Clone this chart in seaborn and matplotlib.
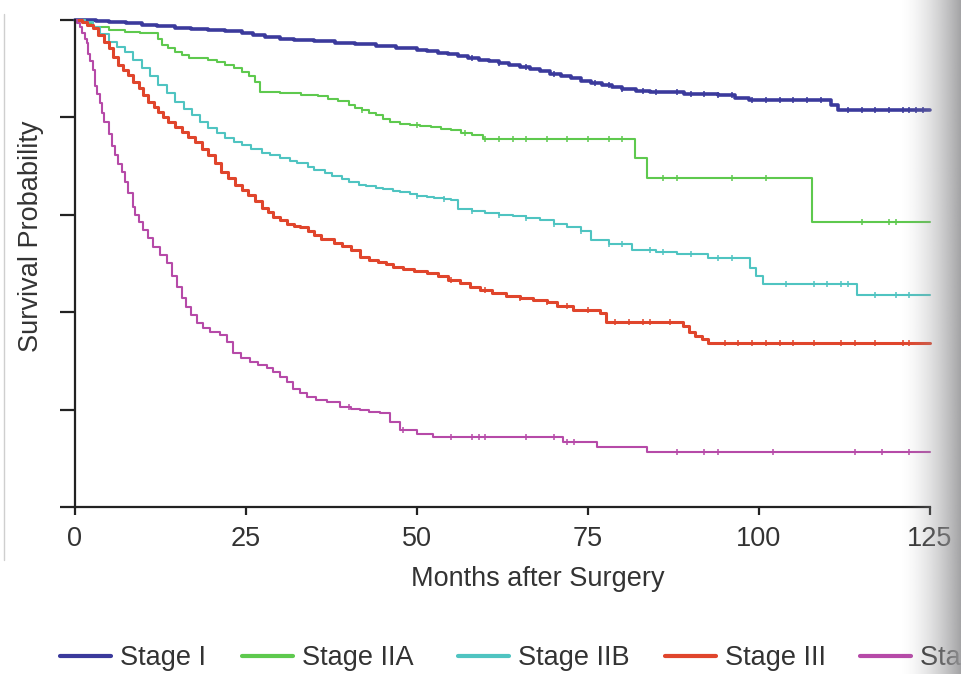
import numpy as np
import pandas as pd
import matplotlib
matplotlib.use("Agg")
import matplotlib.pyplot as plt
from matplotlib.lines import Line2D
import seaborn as sns

# ---------------- data ----------------
stages = ["Stage I", "Stage IIA", "Stage IIB", "Stage III", "Stage IV"]

t_I = [0, 3, 5, 7.5, 9.75, 12, 14.6, 17, 19.5, 22, 24.4, 26, 27.8, 30, 32, 35, 38, 41,
       44, 47, 50, 51.5, 53, 54.5, 56, 57.5, 59, 60.5, 62, 63.5, 65, 66.5, 68, 69.5,
       71, 72.5, 74, 75.5, 77, 78.5, 80, 82, 84, 89, 94, 96.5, 98.5, 110.5, 111.5, 125]
s_I = [1.0, 0.998, 0.996, 0.993, 0.990, 0.987, 0.984, 0.982, 0.980, 0.977, 0.973,
       0.969, 0.965, 0.962, 0.959, 0.956, 0.953, 0.950, 0.947, 0.943, 0.939, 0.936,
       0.933, 0.930, 0.926, 0.922, 0.918, 0.915, 0.911, 0.907, 0.903, 0.899, 0.895,
       0.890, 0.885, 0.880, 0.874, 0.870, 0.866, 0.862, 0.858, 0.855, 0.853, 0.849,
       0.845, 0.840, 0.836, 0.826, 0.815, 0.815]

t_IIA = [0, 1.5, 2.6, 5, 7.3, 9.5, 11.7, 12.2, 12.7, 13.6, 14.6, 15.6, 16.6, 19.5,
         20.7, 21.9, 23.2, 24.4, 25.4, 26.3, 27, 30, 33, 35.5, 37, 38.5, 40, 41, 42,
         43, 44, 45, 46, 47.5, 49, 50.5, 52, 53.5, 55, 56.5, 58, 59.6, 81.9, 83.6,
         107.7, 125]
s_IIA = [1.0, 0.993, 0.986, 0.980, 0.975, 0.974, 0.973, 0.962, 0.949, 0.942, 0.934,
         0.928, 0.922, 0.918, 0.913, 0.908, 0.901, 0.893, 0.884, 0.873, 0.853, 0.850,
         0.846, 0.843, 0.838, 0.833, 0.826, 0.820, 0.815, 0.810, 0.805, 0.797, 0.790,
         0.786, 0.784, 0.782, 0.780, 0.777, 0.774, 0.768, 0.763, 0.756, 0.717, 0.676,
         0.586, 0.586]

t_IIB = [0, 1.5, 2.6, 3.7, 4.9, 6.1, 7.3, 8.5, 9.75, 11, 12.2, 13.4, 14.6, 15.9, 17.1,
         18.3, 19.5, 20.7, 21.9, 23.2, 24.4, 25.8, 27.3, 28.5, 30, 31.5, 32.5, 34, 35,
         36.5, 37.5, 39, 40, 41.5, 42.5, 44, 45, 46.5, 47.5, 49, 50, 51.5, 52.5, 54,
         55, 56, 58, 60, 62, 64, 66, 68, 70, 72, 74, 75.5, 78, 81.5, 85, 88, 92.5,
         98.7, 99.5, 100.6, 114.3, 125]
s_IIB = [1.0, 0.995, 0.986, 0.972, 0.955, 0.945, 0.934, 0.918, 0.901, 0.884, 0.867,
         0.850, 0.832, 0.818, 0.805, 0.791, 0.778, 0.768, 0.758, 0.750, 0.743, 0.735,
         0.727, 0.722, 0.716, 0.710, 0.706, 0.698, 0.692, 0.686, 0.680, 0.674, 0.668,
         0.662, 0.660, 0.656, 0.652, 0.648, 0.646, 0.642, 0.639, 0.636, 0.634, 0.632,
         0.630, 0.612, 0.608, 0.604, 0.600, 0.598, 0.594, 0.590, 0.582, 0.575, 0.566,
         0.549, 0.540, 0.528, 0.524, 0.520, 0.511, 0.491, 0.475, 0.458, 0.436, 0.436]

t_III = [0, 1, 1.8, 2.6, 3.4, 4.2, 4.9, 5.6, 6.3, 7.0, 7.8, 8.5, 9.3, 10, 10.7, 11.5,
         12.2, 12.9, 13.6, 14.6, 15.6, 16.5, 17.5, 18.5, 19.5, 20.5, 21.4, 22.3, 23.4,
         24.4, 25.3, 26.3, 27.3, 28.2, 29, 30, 31, 32, 32.9, 34, 35, 36, 37.8, 39,
         40.3, 41.7, 43, 44.3, 45.5, 46.5, 48, 49.5, 51.4, 53, 54.5, 56.3, 57.8, 59.2,
         61, 63, 65, 67, 69, 70.5, 72.8, 76.8, 77.7, 88.9, 89.8, 90.7, 91.6, 92.5, 125]
s_III = [1.0, 0.995, 0.990, 0.983, 0.969, 0.955, 0.942, 0.925, 0.908, 0.897, 0.887,
         0.873, 0.860, 0.846, 0.832, 0.821, 0.811, 0.801, 0.791, 0.780, 0.770, 0.760,
         0.749, 0.736, 0.723, 0.706, 0.688, 0.675, 0.661, 0.651, 0.641, 0.628, 0.614,
         0.605, 0.596, 0.589, 0.582, 0.578, 0.575, 0.566, 0.558, 0.550, 0.542, 0.535,
         0.527, 0.513, 0.508, 0.503, 0.498, 0.493, 0.489, 0.485, 0.480, 0.474, 0.467,
         0.460, 0.452, 0.445, 0.439, 0.434, 0.430, 0.425, 0.420, 0.412, 0.405, 0.398,
         0.380, 0.372, 0.360, 0.352, 0.345, 0.337, 0.337]

t_IV = [0, 0.3, 0.7, 1.0, 1.4, 1.7, 1.95, 2.2, 2.6, 2.9, 3.2, 3.6, 3.9, 4.3, 4.9, 5.4,
        5.85, 6.3, 6.8, 7.3, 7.8, 8.5, 8.8, 9.4, 10, 10.7, 11.45, 12.4, 13.4, 14.2,
        14.9, 15.6, 16.3, 17.0, 17.8, 18.7, 19.7, 21.2, 22.2, 23.1, 24.3, 25.6, 26.8,
        28, 29, 30, 31, 31.9, 32.9, 33.9, 35.3, 36.8, 38.7, 40.3, 41.7, 43, 44.6, 46,
        47.5, 50, 52.3, 71.3, 76.3, 83.6, 125]
s_IV = [1.0, 0.994, 0.985, 0.973, 0.962, 0.952, 0.930, 0.915, 0.897, 0.865, 0.848,
        0.830, 0.810, 0.790, 0.765, 0.742, 0.723, 0.705, 0.688, 0.668, 0.645, 0.615,
        0.600, 0.585, 0.569, 0.553, 0.534, 0.517, 0.501, 0.475, 0.452, 0.430, 0.411,
        0.395, 0.378, 0.368, 0.359, 0.353, 0.338, 0.316, 0.305, 0.298, 0.292, 0.285,
        0.278, 0.267, 0.256, 0.242, 0.234, 0.226, 0.220, 0.216, 0.205, 0.202, 0.199,
        0.196, 0.193, 0.175, 0.158, 0.150, 0.144, 0.134, 0.124, 0.113, 0.113]

# censoring times (small vertical ticks on the curves)
c_I = [58, 62, 66, 70, 76, 78, 80, 83, 85, 88, 90, 92, 94, 96, 99, 101, 103, 105, 107,
       109, 113, 115, 117, 119, 121, 122, 123, 124]
c_IIA = [42, 50, 57, 60, 62, 64, 66, 69, 72, 75, 78, 80, 86, 88, 96, 101, 115, 119, 120]
c_IIB = [50, 54, 58, 62, 66, 70, 74, 78, 80, 84, 86, 90, 94, 96, 104, 108, 110, 112,
         113, 117, 120, 122]
c_III = [55, 60, 65, 69, 72, 75, 79, 81, 83, 84, 87, 95, 97, 99, 101, 103, 105, 108,
         112, 114, 117, 121, 122]
c_IV = [40, 48, 55, 58, 59, 60, 66, 70, 72, 73, 88, 92, 94, 102, 114, 118, 122]

x_ticks = [0, 25, 50, 75, 100, 125]
y_ticks = [0, 0.2, 0.4, 0.6, 0.8, 1.0]

# ---------------- styling ----------------
colors = ["#3b3a9c", "#5ec94e", "#4fc4c1", "#e0452c", "#b64aa8"]
widths = [2.6, 1.5, 1.5, 2.2, 1.5]
legend_x = [60, 242, 458, 665, 860]   # pixel positions of legend entries
FS = 19.5

sns.set_theme(style="white")
plt.rcParams["font.family"] = ["Liberation Sans", "DejaVu Sans"]

fig = plt.figure(figsize=(9.61, 6.74), dpi=100)
ax = fig.add_axes([75 / 961, 1 - 507 / 674, 855 / 961, 487 / 674])

times = [t_I, t_IIA, t_IIB, t_III, t_IV]
survs = [s_I, s_IIA, s_IIB, s_III, s_IV]
cens = [c_I, c_IIA, c_IIB, c_III, c_IV]

for name, t, s, c, col, lw, lx in zip(stages, times, survs, cens, colors, widths, legend_x):
    df = pd.DataFrame({"month": t, "surv": s})
    sns.lineplot(data=df, x="month", y="surv", ax=ax, color=col, linewidth=lw,
                 drawstyle="steps-post", estimator=None, sort=False,
                 clip_on=False, legend=False)
    ta = np.asarray(t)
    sa = np.asarray(s)
    cy = sa[np.searchsorted(ta, np.asarray(c), side="right") - 1]
    dfc = pd.DataFrame({"month": c, "surv": cy})
    sns.scatterplot(data=dfc, x="month", y="surv", ax=ax, marker="|", s=25,
                    color=col, linewidth=1.1, legend=False, clip_on=False)
    h = Line2D([0], [0], color=col, linewidth=3.0)
    fig.legend([h], [name], loc="center left",
               bbox_to_anchor=(lx / 961, 1 - 658 / 674), frameon=False,
               fontsize=FS, handlelength=1.9, handletextpad=0.3,
               borderpad=0, borderaxespad=0, labelcolor="#333333")

ax.set_xlim(0, 125)
ax.set_ylim(0, 1)
ax.set_xticks(x_ticks)
ax.set_xticklabels([str(v) for v in x_ticks])
ax.set_yticks(y_ticks)
ax.set_yticklabels([])
for side in ["top", "right"]:
    ax.spines[side].set_visible(False)
for side in ["left", "bottom"]:
    ax.spines[side].set_linewidth(1.6)
    ax.spines[side].set_color("#222222")
ax.tick_params(axis="y", direction="out", length=11, width=1.6, color="#222222", left=True)
ax.tick_params(axis="x", direction="out", length=6, width=1.6, color="#222222",
               bottom=True, labelsize=FS, labelcolor="#333333", pad=8)

ax.set_xlabel("Months after Surgery", fontsize=FS, color="#333333")
ax.set_ylabel("Survival Probability", fontsize=FS, color="#333333")
ax.xaxis.set_label_coords(0.541, -0.122)
ax.yaxis.set_label_coords(-0.036, 0.556)

# scan artefacts: thin frame line at left, grey shading at right edge
fig.add_artist(Line2D([4 / 961, 4 / 961], [1 - 14 / 674, 1 - 560 / 674],
                      transform=fig.transFigure, color="#cfcfcf", linewidth=1))
gax = fig.add_axes([900 / 961, 0, 61 / 961, 1], zorder=10)
gx = np.linspace(0, 1, 200)
alpha = gx ** 1.6
grad = np.zeros((2, 200, 4))
grad[..., 0] = 0.60
grad[..., 1] = 0.60
grad[..., 2] = 0.61
grad[..., 3] = alpha * 0.9
gax.imshow(grad, aspect="auto", extent=[0, 1, 0, 1])
gax.set_axis_off()

fig.savefig("out.png", dpi=100)
